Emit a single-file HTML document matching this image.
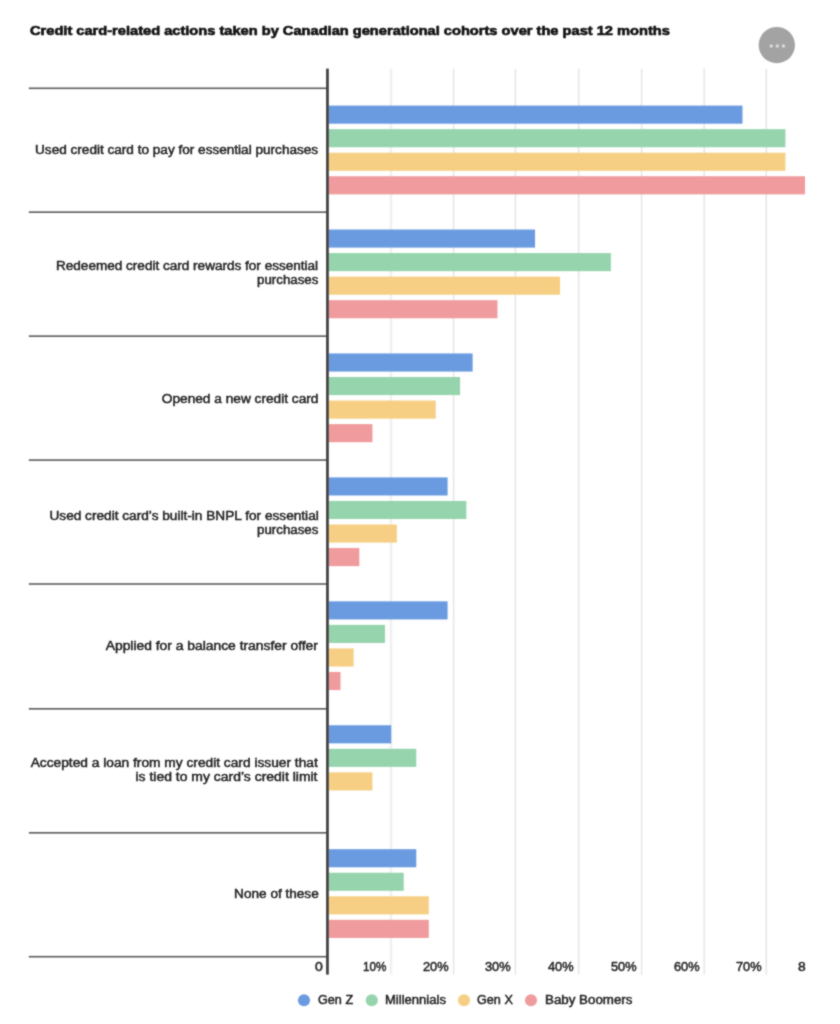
<!DOCTYPE html>
<html lang="en"><head><meta charset="utf-8"><title>Credit card-related actions taken by Canadian generational cohorts</title>
<style>
html,body{margin:0;padding:0;background:#fff;}
body{width:840px;height:1024px;position:relative;overflow:hidden;font-family:"Liberation Sans",sans-serif;color:#222222;}
.abs{position:absolute;}
#c{position:absolute;left:0;top:0;width:840px;height:1024px;filter:url(#soft);}
#g{position:absolute;left:0;top:0;}
.title{font-weight:bold;font-size:12.5px;line-height:18px;white-space:nowrap;color:#111;transform-origin:0 50%;-webkit-text-stroke:0.6px #111;}
.lab{text-align:right;transform-origin:100% 50%;font-size:12px;line-height:14px;white-space:nowrap;-webkit-text-stroke:0.45px #222222;}
.tick,.leg{font-size:12px;line-height:14px;white-space:nowrap;transform-origin:0 50%;-webkit-text-stroke:0.45px #222222;}
</style></head><body>
<svg width="0" height="0" style="position:absolute"><defs><filter id="soft" x="0" y="0" width="100%" height="100%" color-interpolation-filters="sRGB"><feConvolveMatrix order="3" kernelMatrix="1 2 1 2 10 2 1 2 1" divisor="22" edgeMode="duplicate" preserveAlpha="false"/></filter></defs></svg>
<div id="c">
<svg id="g" width="840" height="1024" viewBox="0 0 840 1024">
<rect x="0" y="0" width="840" height="1024" fill="#ffffff"/>
<rect x="389.70" y="68.60" width="2.60" height="906.00" fill="#f0f0f0"/>
<rect x="452.85" y="68.60" width="1.50" height="906.00" fill="#e5e5e5"/>
<rect x="514.65" y="68.60" width="1.50" height="906.00" fill="#e5e5e5"/>
<rect x="577.90" y="68.60" width="1.50" height="906.00" fill="#e5e5e5"/>
<rect x="640.85" y="68.60" width="1.50" height="906.00" fill="#e5e5e5"/>
<rect x="703.45" y="68.60" width="1.50" height="906.00" fill="#e5e5e5"/>
<rect x="765.55" y="68.60" width="1.50" height="906.00" fill="#e5e5e5"/>
<rect x="28.80" y="87.50" width="298.50" height="1.60" fill="#5c5c5c"/>
<rect x="328.60" y="105.60" width="413.89" height="18.10" fill="#6a9be0"/>
<rect x="328.60" y="129.15" width="456.83" height="18.10" fill="#96d4ad"/>
<rect x="328.60" y="152.70" width="456.83" height="18.10" fill="#f6cf84"/>
<rect x="328.60" y="176.25" width="476.41" height="18.10" fill="#f09b9e"/>
<rect x="28.80" y="211.35" width="298.50" height="1.60" fill="#5c5c5c"/>
<rect x="328.60" y="229.53" width="206.45" height="18.10" fill="#6a9be0"/>
<rect x="328.60" y="253.08" width="282.29" height="18.10" fill="#96d4ad"/>
<rect x="328.60" y="276.63" width="231.49" height="18.10" fill="#f6cf84"/>
<rect x="328.60" y="300.18" width="168.87" height="18.10" fill="#f09b9e"/>
<rect x="28.80" y="335.35" width="298.50" height="1.60" fill="#5c5c5c"/>
<rect x="328.60" y="353.46" width="144.03" height="18.10" fill="#6a9be0"/>
<rect x="328.60" y="377.01" width="131.50" height="18.10" fill="#96d4ad"/>
<rect x="328.60" y="400.56" width="107.15" height="18.10" fill="#f6cf84"/>
<rect x="328.60" y="424.11" width="43.83" height="18.10" fill="#f09b9e"/>
<rect x="28.80" y="459.30" width="298.50" height="1.60" fill="#5c5c5c"/>
<rect x="328.60" y="477.39" width="118.98" height="18.10" fill="#6a9be0"/>
<rect x="328.60" y="500.94" width="137.76" height="18.10" fill="#96d4ad"/>
<rect x="328.60" y="524.49" width="68.28" height="18.10" fill="#f6cf84"/>
<rect x="328.60" y="548.04" width="30.71" height="18.10" fill="#f09b9e"/>
<rect x="28.80" y="583.20" width="298.50" height="1.60" fill="#5c5c5c"/>
<rect x="328.60" y="601.32" width="118.98" height="18.10" fill="#6a9be0"/>
<rect x="328.60" y="624.87" width="56.36" height="18.10" fill="#96d4ad"/>
<rect x="328.60" y="648.42" width="25.05" height="18.10" fill="#f6cf84"/>
<rect x="328.60" y="671.97" width="11.92" height="18.10" fill="#f09b9e"/>
<rect x="28.80" y="708.00" width="298.50" height="1.60" fill="#5c5c5c"/>
<rect x="328.60" y="725.25" width="62.62" height="18.10" fill="#6a9be0"/>
<rect x="328.60" y="748.80" width="87.67" height="18.10" fill="#96d4ad"/>
<rect x="328.60" y="772.35" width="43.83" height="18.10" fill="#f6cf84"/>
<rect x="28.80" y="832.00" width="298.50" height="1.60" fill="#5c5c5c"/>
<rect x="328.60" y="849.18" width="87.67" height="18.10" fill="#6a9be0"/>
<rect x="328.60" y="872.73" width="75.14" height="18.10" fill="#96d4ad"/>
<rect x="328.60" y="896.28" width="100.19" height="18.10" fill="#f6cf84"/>
<rect x="328.60" y="919.83" width="100.19" height="18.10" fill="#f09b9e"/>
<rect x="28.80" y="955.90" width="298.50" height="1.60" fill="#5c5c5c"/>
<rect x="326.10" y="68.60" width="2.70" height="906.00" fill="#404040"/>
<circle cx="304" cy="1000.2" r="6.05" fill="#6a9be0"/>
<circle cx="371.8" cy="1000.2" r="6.05" fill="#96d4ad"/>
<circle cx="464" cy="1000.2" r="6.05" fill="#f6cf84"/>
<circle cx="531" cy="1000.2" r="6.05" fill="#f09b9e"/>
<circle cx="776.8" cy="45.1" r="18.15" fill="#a3a3a3"/>
<circle cx="771.2" cy="46.0" r="1.7" fill="#dcdcdc"/>
<circle cx="777.3" cy="46.0" r="1.7" fill="#dcdcdc"/>
<circle cx="783.4" cy="46.0" r="1.7" fill="#dcdcdc"/>
</svg>
<div class="abs title" style="left:29.90px;top:22.00px;transform:scaleX(1.1705)">Credit card-related actions taken by Canadian generational cohorts over the past 12 months</div>
<div class="abs lab" style="right:521.7px;top:143px;transform:scaleX(1.1318)">Used credit card to pay for essential purchases</div>
<div class="abs lab" style="right:521.7px;top:259px;transform:scaleX(1.1292)">Redeemed credit card rewards for essential</div>
<div class="abs lab" style="right:521.7px;top:273px;transform:scaleX(1.1072)">purchases</div>
<div class="abs lab" style="right:521.7px;top:392px;transform:scaleX(1.1396)">Opened a new credit card</div>
<div class="abs lab" style="right:521.7px;top:509px;transform:scaleX(1.1374)">Used credit card’s built-in BNPL for essential</div>
<div class="abs lab" style="right:521.7px;top:523px;transform:scaleX(1.1072)">purchases</div>
<div class="abs lab" style="right:521.7px;top:639px;transform:scaleX(1.1539)">Applied for a balance transfer offer</div>
<div class="abs lab" style="right:522.6px;top:756px;transform:scaleX(1.1448)">Accepted a loan from my credit card issuer that</div>
<div class="abs lab" style="right:522.6px;top:770px;transform:scaleX(1.1630)">is tied to my card’s credit limit</div>
<div class="abs lab" style="right:521.7px;top:887px;transform:scaleX(1.1322)">None of these</div>
<div class="abs tick" style="left:315.40px;top:960.00px;transform:scaleX(1.1687)">0</div>
<div class="abs tick" style="left:362.50px;top:960.00px;transform:scaleX(0.9743)">10%</div>
<div class="abs tick" style="left:422.90px;top:960.00px;transform:scaleX(1.0659)">20%</div>
<div class="abs tick" style="left:484.70px;top:960.00px;transform:scaleX(1.0659)">30%</div>
<div class="abs tick" style="left:547.95px;top:960.00px;transform:scaleX(1.0659)">40%</div>
<div class="abs tick" style="left:610.90px;top:960.00px;transform:scaleX(1.0659)">50%</div>
<div class="abs tick" style="left:673.50px;top:960.00px;transform:scaleX(1.0659)">60%</div>
<div class="abs tick" style="left:735.60px;top:960.00px;transform:scaleX(1.0659)">70%</div>
<div class="abs tick" style="left:798.00px;top:960.00px;transform:scaleX(1.1538)">8</div>
<div class="abs leg" style="left:317.50px;top:993.00px;transform:scaleX(1.0526)">Gen Z</div>
<div class="abs leg" style="left:384.80px;top:993.00px;transform:scaleX(1.0871)">Millennials</div>
<div class="abs leg" style="left:477.20px;top:993.00px;transform:scaleX(1.0523)">Gen X</div>
<div class="abs leg" style="left:544.60px;top:993.00px;transform:scaleX(1.1105)">Baby Boomers</div>
</div></body></html>
